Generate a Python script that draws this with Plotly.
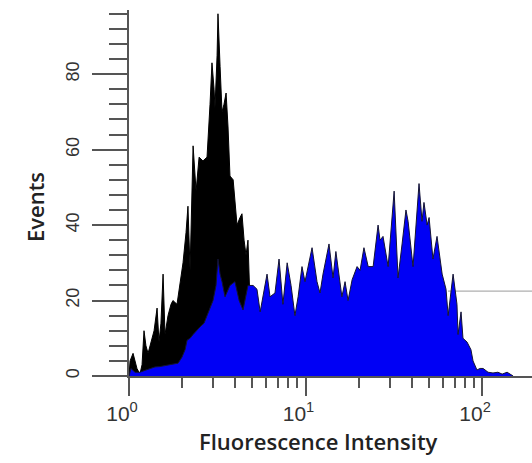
import plotly.graph_objects as go

# log10(fluorescence intensity) positions and event counts
black_log_x = [0.000, 0.006, 0.023, 0.045, 0.062, 0.074, 0.085, 0.096, 0.108, 0.125,
               0.142, 0.159, 0.170, 0.181, 0.193, 0.204, 0.221, 0.238, 0.249, 0.272,
               0.289, 0.306, 0.323, 0.334, 0.346, 0.357, 0.363, 0.380, 0.397, 0.419,
               0.442, 0.459, 0.470, 0.482, 0.487, 0.499, 0.504, 0.516, 0.527, 0.538,
               0.550, 0.561, 0.572, 0.590, 0.600, 0.612, 0.629, 0.640, 0.652, 0.663,
               0.674, 0.685, 0.703, 0.731, 0.771, 0.827, 0.912, 1.025]
black_events = [0, 4, 6, 2, 0.5, 3, 12, 8, 6, 9,
                12, 18, 9, 14, 27, 11, 16, 19, 20, 19,
                25, 30, 38, 45, 28, 48, 61, 49, 58, 57,
                58, 72, 83, 76, 71, 85, 96, 82, 70, 72,
                75, 66, 53, 52, 46, 40, 42, 43, 36, 32,
                36, 20, 15, 12, 8, 5, 2, 0]

blue_log_x = [0.000, 0.011, 0.034, 0.062, 0.091, 0.119, 0.147, 0.175, 0.204, 0.232,
              0.260, 0.278, 0.300, 0.318, 0.329, 0.346, 0.363, 0.380, 0.402, 0.425,
              0.442, 0.459, 0.476, 0.493, 0.504, 0.516, 0.527, 0.544, 0.561, 0.572,
              0.600, 0.624, 0.646, 0.663, 0.674, 0.703, 0.725, 0.743, 0.759, 0.782,
              0.799, 0.827, 0.850, 0.872, 0.896, 0.918, 0.940, 0.958, 0.980, 0.997,
              1.037, 1.065, 1.082, 1.099, 1.133, 1.156, 1.172, 1.206, 1.224, 1.241,
              1.264, 1.292, 1.309, 1.331, 1.355, 1.383, 1.411, 1.422, 1.439, 1.468,
              1.502, 1.524, 1.547, 1.569, 1.581, 1.609, 1.643, 1.660, 1.671, 1.689,
              1.700, 1.722, 1.745, 1.774, 1.796, 1.808, 1.836, 1.858, 1.864, 1.881,
              1.892, 1.915, 1.937, 1.949, 1.971, 1.989, 2.006, 2.034, 2.062, 2.090,
              2.114, 2.142, 2.159, 2.176]
blue_events = [0, 2, 1, 1, 1.5, 2, 2.4, 2.5, 2.8, 3,
               3.2, 3.4, 5, 7, 9.5, 10, 11, 12, 13, 14,
               16, 18, 20, 24, 31, 27, 25, 21, 23, 24,
               25, 20, 17.5, 21, 24, 24, 23, 17, 21, 27,
               21, 22, 31, 19, 30, 24, 16, 21, 29, 25,
               34, 25, 22, 27, 35, 26, 33, 21, 25, 20,
               25.5, 29, 28, 34, 29, 29, 40, 36, 37, 29,
               49, 26, 35, 44, 41, 29, 51, 41, 46, 40,
               42, 31, 37, 27, 23, 16, 27, 19, 11, 17,
               10, 9, 7, 4, 1.6, 2, 2, 1, 0.8, 1,
               0.5, 1, 0.5, 0]

gate_log_x = [1.807, 2.283]
gate_events = [22.5, 22.5]

x_tick_vals = [1, 10, 100]
x_tick_text = ["10<sup>0</sup>", "10<sup>1</sup>", "10<sup>2</sup>"]
x_minor_vals = [2, 3, 4, 5, 6, 7, 8, 9, 20, 30, 40, 50, 60, 70, 80, 90]
y_tick_vals = [0, 20, 40, 60, 80]

x_title = "Fluorescence Intensity"
y_title = "Events"

def to_lin(vals):
    return [10 ** v for v in vals]

fig = go.Figure()
fig.add_trace(go.Scatter(x=to_lin(gate_log_x), y=gate_events, mode="lines",
                         line=dict(color="#9a9a9a", width=1), hoverinfo="skip"))
fig.add_trace(go.Scatter(x=to_lin(black_log_x), y=black_events, mode="lines",
                         fill="tozeroy", fillcolor="#000000",
                         line=dict(color="#000000", width=1)))
fig.add_trace(go.Scatter(x=to_lin(blue_log_x), y=blue_events, mode="lines",
                         fill="tozeroy", fillcolor="#0000f5",
                         line=dict(color="#141432", width=1)))

axis_col = "#555555"
title_font = dict(family="Open Sans", size=22, color="#222222", weight=600)
fig.update_layout(
    width=532, height=463,
    margin=dict(l=129, r=0, t=10, b=87),
    paper_bgcolor="white", plot_bgcolor="white",
    showlegend=False,
    xaxis=dict(
        type="log", range=[0, 2.283],
        showgrid=False, zeroline=False,
        showline=True, linecolor=axis_col, linewidth=2,
        ticks="outside", ticklen=18, tickwidth=2, tickcolor=axis_col,
        tickmode="array", tickvals=x_tick_vals, ticktext=x_tick_text,
        ticklabelshift=-7,
        tickfont=dict(family="Liberation Sans, Arial", size=21, color="#333333"),
        minor=dict(tickmode="array", tickvals=x_minor_vals, ticks="outside",
                   ticklen=10, tickwidth=2, tickcolor=axis_col, showgrid=False),
    ),
    yaxis=dict(
        range=[0, 97],
        showgrid=False, zeroline=False,
        showline=True, linecolor=axis_col, linewidth=2,
        ticks="outside", ticklen=35, tickwidth=2, tickcolor=axis_col,
        tickmode="array", tickvals=y_tick_vals, tickangle=-90,
        ticklabelstandoff=6,
        tickfont=dict(family="Liberation Sans, Arial", size=18, color="#333333"),
        minor=dict(tick0=0, dtick=4, ticks="outside", ticklen=18, tickwidth=2,
                   tickcolor=axis_col, showgrid=False),
    ),
    annotations=[
        dict(text=x_title, xref="paper", yref="paper", x=0.469, y=-0.178,
             xanchor="center", yanchor="middle", showarrow=False, font=title_font),
        dict(text=y_title, xref="paper", yref="paper", x=-0.233, y=0.462,
             xanchor="center", yanchor="middle", showarrow=False, textangle=-90,
             font=title_font),
    ],
)

fig.write_html("out.html")
